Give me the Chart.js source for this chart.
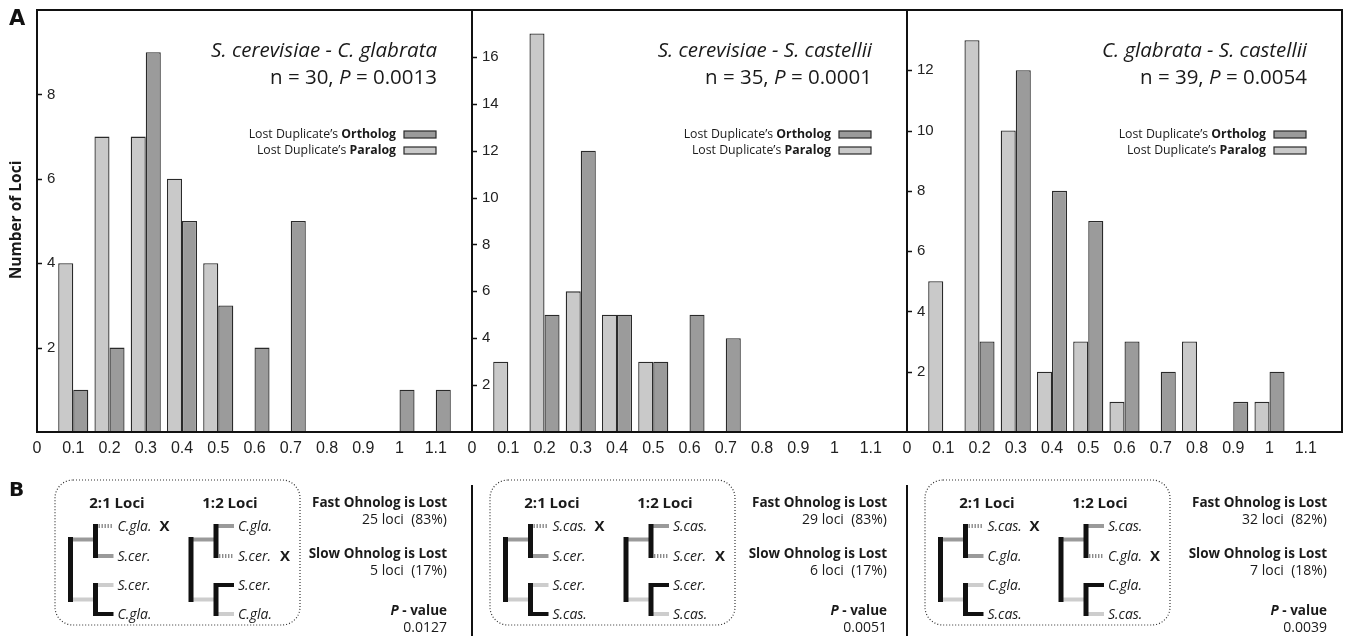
<!DOCTYPE html>
<html lang="en">
<head>
  <meta charset="UTF-8" />
  <title>Lost duplicate ortholog / paralog distances</title>
  <script src="https://cdn.jsdelivr.net/npm/chart.js@4.4.1/dist/chart.umd.min.js"></script>
  <style>
    body { margin: 0; background: #fff; }
    #page { position: relative; width: 1345px; height: 636px; overflow: hidden; background: #fff; }
    .wrap { position: absolute; top: 0; width: 475px; height: 470px; }
    #overlay { position: absolute; left: 0; top: 0; pointer-events: none; }
  </style>
</head>
<body>
  <div id="page">
    <div class="wrap" style="left:17px"><canvas id="c1" width="475" height="470"></canvas></div>
    <div class="wrap" style="left:452px"><canvas id="c2" width="475" height="470"></canvas></div>
    <div class="wrap" style="left:887px"><canvas id="c3" width="475" height="470"></canvas></div>
    <svg id="overlay" width="1345" height="636" xmlns="http://www.w3.org/2000/svg"></svg>
  </div>

  <script>
    // histogram bins (distance classes) and tick labels
    const bins = [0.1, 0.2, 0.3, 0.4, 0.5, 0.6, 0.7, 0.8, 0.9, 1.0, 1.1];
    const xTicks = [0, 0.1, 0.2, 0.3, 0.4, 0.5, 0.6, 0.7, 0.8, 0.9, 1.0, 1.1];
    const xTickLabels = ['0', '0.1', '0.2', '0.3', '0.4', '0.5', '0.6', '0.7', '0.8', '0.9', '1', '1.1'];

    // S. cerevisiae - C. glabrata
    const scParalog  = [4, 7, 7, 6, 4, 0, 0, 0, 0, 0, 0];
    const scOrtholog = [1, 2, 9, 5, 3, 2, 5, 0, 0, 1, 1];
    const scYTicks = [2, 4, 6, 8];
    // S. cerevisiae - S. castellii
    const ssParalog  = [3, 17, 6, 5, 3, 0, 0, 0, 0, 0, 0];
    const ssOrtholog = [0, 5, 12, 5, 3, 5, 4, 0, 0, 0, 0];
    const ssYTicks = [2, 4, 6, 8, 10, 12, 14, 16];
    // C. glabrata - S. castellii
    const csParalog  = [5, 13, 10, 2, 3, 1, 0, 3, 0, 1, 0];
    const csOrtholog = [0, 3, 12, 8, 7, 3, 2, 0, 1, 2, 0];
    const csYTicks = [2, 4, 6, 8, 10, 12];

    const yMaxes = [10, 18, 14];
    const titles = ['S. cerevisiae - C. glabrata', 'S. cerevisiae - S. castellii', 'C. glabrata - S. castellii'];
    const nValues = [30, 35, 39];
    const pValues = ['0.0013', '0.0001', '0.0054'];

    // panel B numbers
    const fastLoci = [25, 29, 32];
    const fastPct = ['83%', '83%', '82%'];
    const slowLoci = [5, 6, 7];
    const slowPct = ['17%', '17%', '18%'];
    const pB = ['0.0127', '0.0051', '0.0039'];
    const lostSpecies = ['C.gla.', 'S.cas.', 'S.cas.'];
    const keptSpecies = ['S.cer.', 'S.cer.', 'C.gla.'];

    const LIGHT = '#c9c9c9';
    const DARK = '#9b9b9b';
    const EDGE = '#2a2a2a';

    const panelLeft = [37, 472, 907];

    const framePlugin = {
      id: 'frame',
      afterDatasetsDraw(chart) {
        const { ctx, chartArea: a } = chart;
        const ys = chart.scales.y;
        ctx.save();
        ctx.strokeStyle = '#111';
        ctx.lineWidth = 2;
        ctx.strokeRect(a.left, a.top, a.right - a.left, a.bottom - a.top);
        // short tick marks pointing into the plot
        ctx.lineWidth = 1.5;
        ys.ticks.forEach(t => {
          const y = Math.round(ys.getPixelForValue(t.value)) + 0.5;
          ctx.beginPath();
          ctx.moveTo(a.left, y);
          ctx.lineTo(a.left + 5, y);
          ctx.stroke();
        });
        ctx.restore();
      }
    };

    function makeChart(id, paralog, ortholog, yMax, yTicks) {
      return new Chart(document.getElementById(id), {
        type: 'bar',
        data: {
          datasets: [
            {
              label: "Lost Duplicate's Paralog",
              data: bins.map((b, i) => ({ x: b, y: paralog[i] })),
              backgroundColor: LIGHT,
              borderColor: EDGE,
              borderWidth: 1.3
            },
            {
              label: "Lost Duplicate's Ortholog",
              data: bins.map((b, i) => ({ x: b, y: ortholog[i] })),
              backgroundColor: DARK,
              borderColor: EDGE,
              borderWidth: 1.3
            }
          ]
        },
        options: {
          responsive: false,
          animation: false,
          categoryPercentage: 0.83,
          barPercentage: 1,
          layout: { padding: { left: 20, right: 20, top: 10, bottom: 8 } },
          plugins: { legend: { display: false }, tooltip: { enabled: false } },
          scales: {
            x: {
              type: 'linear',
              min: 0,
              max: 1.2,
              offset: false,
              grid: { display: false, drawTicks: false },
              border: { display: false },
              ticks: {
                autoSkip: false,
                maxRotation: 0,
                padding: 7,
                color: '#222',
                font: { family: 'Liberation Sans', size: 16 },
                callback: (v, i) => xTickLabels[i]
              },
              afterBuildTicks: s => { s.ticks = xTicks.map(v => ({ value: v })); },
              afterFit: s => { s.height = 30; s.paddingLeft = 0; s.paddingRight = 0; }
            },
            y: {
              min: 0,
              max: yMax,
              grid: { display: false, drawTicks: false },
              border: { display: false },
              ticks: {
                mirror: true,
                padding: 10,
                color: '#222',
                font: { family: 'Liberation Sans', size: 15 }
              },
              afterBuildTicks: s => { s.ticks = yTicks.map(v => ({ value: v })); },
              afterFit: s => { s.width = 0; s.paddingTop = 0; s.paddingBottom = 0; }
            }
          }
        },
        plugins: [framePlugin]
      });
    }

    makeChart('c1', scParalog, scOrtholog, yMaxes[0], scYTicks);
    makeChart('c2', ssParalog, ssOrtholog, yMaxes[1], ssYTicks);
    makeChart('c3', csParalog, csOrtholog, yMaxes[2], csYTicks);

    // ---- text, legends and panel B diagrams ----
    const F = 'font-family="Open Sans" fill="#1a1a1a"';
    let svg = '';
    svg += `<text x="9" y="25" font-family="DejaVu Sans" font-weight="bold" font-size="21" fill="#111">A</text>`;
    svg += `<text x="9" y="496" font-family="DejaVu Sans" font-weight="bold" font-size="20" fill="#111">B</text>`;
    svg += `<text transform="translate(21,220) rotate(-90)" text-anchor="middle" ${F} font-weight="700" font-size="15.5">Number of Loci</text>`;

    function leaf(x1, x2, y, kind) {
      const col = { black: '#111', mid: '#9a9a9a', light: '#cdcdcd', lost: '#8a8a8a' }[kind];
      const dash = kind === 'lost' ? ' stroke-dasharray="1.4 1.6"' : '';
      return `<line x1="${x1}" y1="${y}" x2="${x2}" y2="${y}" stroke="${col}" stroke-width="4"${dash}/>`;
    }

    function tree(L, rootX, names, kinds, lostRow) {
      const rows = [526, 556, 585, 614];
      const subX = rootX + 25;
      const leafEnd = subX + 18;
      const labelX = leafEnd + 4;
      let s = '';
      s += `<line x1="${L + rootX}" y1="539.5" x2="${L + subX}" y2="539.5" stroke="#9a9a9a" stroke-width="4"/>`;
      s += `<line x1="${L + rootX}" y1="599.5" x2="${L + subX}" y2="599.5" stroke="#cdcdcd" stroke-width="4"/>`;
      rows.forEach((y, i) => { s += leaf(L + subX, L + leafEnd, y, kinds[i]); });
      s += `<line x1="${L + rootX}" y1="537" x2="${L + rootX}" y2="602" stroke="#111" stroke-width="5"/>`;
      s += `<line x1="${L + subX}" y1="${rows[0] - 2}" x2="${L + subX}" y2="${rows[1] + 2}" stroke="#111" stroke-width="5"/>`;
      s += `<line x1="${L + subX}" y1="${rows[2] - 2}" x2="${L + subX}" y2="${rows[3] + 2}" stroke="#111" stroke-width="5"/>`;
      rows.forEach((y, i) => {
        s += `<text x="${L + labelX}" y="${y + 5}" ${F} font-style="italic" font-size="14">${names[i]}</text>`;
        if (i === lostRow) s += `<text x="${L + labelX + 42}" y="${y + 5}" ${F} font-weight="700" font-size="15">X</text>`;
      });
      return s;
    }

    const rightB = [447, 887, 1327];

    panelLeft.forEach((L, p) => {
      const R = L + 400;
      svg += `<text x="${R}" y="57" text-anchor="end" ${F} font-style="italic" font-size="20.5">${titles[p]}</text>`;
      svg += `<text x="${R}" y="84" text-anchor="end" ${F} font-size="20.5">n = ${nValues[p]}, <tspan font-style="italic">P</tspan> = ${pValues[p]}</text>`;
      svg += `<text x="${L + 359}" y="137.5" text-anchor="end" ${F} font-size="12.3">Lost Duplicate’s <tspan font-weight="700">Ortholog</tspan></text>`;
      svg += `<text x="${L + 359}" y="153.5" text-anchor="end" ${F} font-size="12.3">Lost Duplicate’s <tspan font-weight="700">Paralog</tspan></text>`;
      svg += `<rect x="${L + 367}" y="131" width="32" height="7" fill="${DARK}" stroke="${EDGE}" stroke-width="1.2"/>`;
      svg += `<rect x="${L + 367}" y="147" width="32" height="7" fill="${LIGHT}" stroke="${EDGE}" stroke-width="1.2"/>`;

      // panel B
      if (p > 0) svg += `<line x1="${L}" y1="485" x2="${L}" y2="636" stroke="#111" stroke-width="2"/>`;
      svg += `<rect x="${L + 18}" y="480" width="245" height="145" rx="18" fill="none" stroke="#333" stroke-width="1.2" stroke-dasharray="1 2"/>`;
      svg += `<text x="${L + 80}" y="508" text-anchor="middle" ${F} font-weight="700" font-size="15">2:1 Loci</text>`;
      svg += `<text x="${L + 193}" y="508" text-anchor="middle" ${F} font-weight="700" font-size="15">1:2 Loci</text>`;
      const a = lostSpecies[p], b = keptSpecies[p];
      svg += tree(L, 33.5, [a, b, b, a], ['lost', 'mid', 'light', 'black'], 0);
      svg += tree(L, 154, [a, b, b, a], ['mid', 'lost', 'black', 'light'], 1);

      const RB = rightB[p];
      svg += `<text x="${RB}" y="507" text-anchor="end" ${F} font-weight="700" font-size="13.5">Fast Ohnolog is Lost</text>`;
      svg += `<text x="${RB}" y="524" text-anchor="end" ${F} font-size="14" xml:space="preserve">${fastLoci[p]} loci  (${fastPct[p]})</text>`;
      svg += `<text x="${RB}" y="558" text-anchor="end" ${F} font-weight="700" font-size="13.5">Slow Ohnolog is Lost</text>`;
      svg += `<text x="${RB}" y="575" text-anchor="end" ${F} font-size="14" xml:space="preserve">${slowLoci[p]} loci  (${slowPct[p]})</text>`;
      svg += `<text x="${RB}" y="615" text-anchor="end" ${F} font-weight="700" font-size="13.5"><tspan font-style="italic">P</tspan> - value</text>`;
      svg += `<text x="${RB}" y="632" text-anchor="end" ${F} font-size="14">${pB[p]}</text>`;
    });

    document.getElementById('overlay').innerHTML = svg;
  </script>
</body>
</html>
